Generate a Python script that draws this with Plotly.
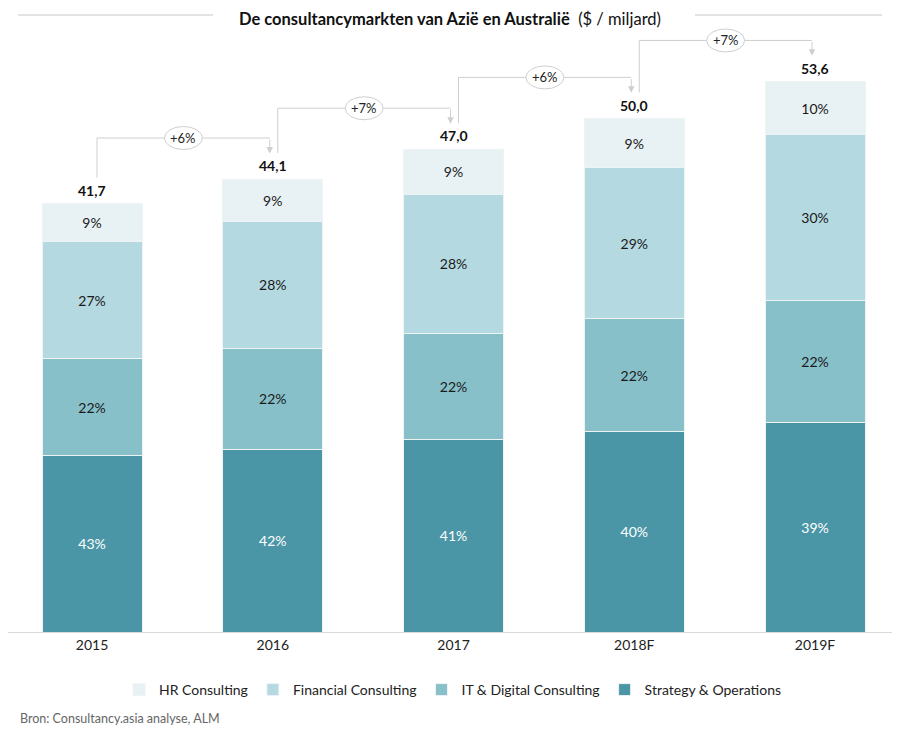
import plotly.graph_objects as go

years = ["2015", "2016", "2017", "2018F", "2019F"]
totals = [41.7, 44.1, 47.0, 50.0, 53.6]
total_labels = ["41,7", "44,1", "47,0", "50,0", "53,6"]
growth_labels = ["+6%", "+7%", "+6%", "+7%"]

strategy_ops = [17.2, 17.8, 18.7, 19.5, 20.4]
it_digital = [9.4, 9.8, 10.4, 11.0, 11.9]
financial = [11.4, 12.4, 13.5, 14.7, 16.1]
hr = [3.7, 4.1, 4.4, 4.8, 5.2]

pct_so = ["43%", "42%", "41%", "40%", "39%"]
pct_it = ["22%", "22%", "22%", "22%", "22%"]
pct_fin = ["27%", "28%", "28%", "29%", "30%"]
pct_hr = ["9%", "9%", "9%", "9%", "10%"]

FONT = "Lato"
OFF = 8          # page body margin
W, H = 900 - OFF, 732 - OFF
PLOT_H = 632 - OFF
x = list(range(len(years)))
PX_X = 180.75   # px per x unit
PX_Y = 10.27    # px per y unit


def px_x(page_x):
    return (page_x - OFF) / W


def px_y(page_y):
    return 1 - (page_y - OFF) / PLOT_H


fig = go.Figure()
series = [
    ("Strategy & Operations", strategy_ops, pct_so, "#4a96a6", "white"),
    ("IT & Digital Consulting", it_digital, pct_it, "#88c0ca", "#1a1a1a"),
    ("Financial Consulting", financial, pct_fin, "#b5d9e0", "#1a1a1a"),
    ("HR Consulting", hr, pct_hr, "#e8f1f3", "#1a1a1a"),
]
for name, vals, labels, color, tcol in series:
    fig.add_trace(go.Bar(
        x=x, y=vals, name=name, text=labels,
        textposition="inside", insidetextanchor="middle", textangle=0,
        textfont=dict(family=FONT, size=14, color=tcol),
        marker=dict(color=color, line=dict(color="#eef3f4", width=1)),
        width=100 / PX_X, hoverinfo="skip",
    ))

annotations = []
shapes = []
for i, t in enumerate(totals):
    annotations.append(dict(x=x[i], y=t, text="<b>%s</b>" % total_labels[i], showarrow=False,
                            yanchor="bottom", yshift=3,
                            font=dict(family=FONT, size=14, color="#111")))

line_col = "#cfcfcf"
for i, g in enumerate(growth_labels):
    x0 = x[i] + 5 / PX_X
    x1 = x[i + 1] - 3 / PX_X
    y_start = totals[i] + 2.55
    level = totals[i + 1] + 4.0
    y_tip = totals[i + 1] + 2.5
    shapes.append(dict(type="line", xref="x", yref="y", x0=x0, x1=x0, y0=y_start, y1=level,
                       line=dict(color=line_col, width=1)))
    shapes.append(dict(type="line", xref="x", yref="y", x0=x0, x1=x1, y0=level, y1=level,
                       line=dict(color=line_col, width=1)))
    annotations.append(dict(x=x1, y=y_tip, ax=x1, ay=level, xref="x", yref="y", axref="x", ayref="y",
                            text="", showarrow=True, arrowhead=2, arrowsize=1.3, arrowwidth=1,
                            arrowcolor=line_col))
    xm = (x0 + x1) / 2
    w = 38 / PX_X / 2
    h = 23 / PX_Y / 2
    shapes.append(dict(type="circle", xref="x", yref="y", x0=xm - w, x1=xm + w, y0=level - h, y1=level + h,
                       fillcolor="white", line=dict(color=line_col, width=1)))
    annotations.append(dict(x=xm, y=level, text=g, showarrow=False,
                            font=dict(family=FONT, size=13, color="#222")))

# title
title_y = px_y(19)
line_y = px_y(15)
annotations.append(dict(xref="paper", yref="paper", x=px_x(450), y=title_y, showarrow=False,
                        text="<b>De consultancymarkten van Azië en Australië</b>  ($ / miljard)",
                        font=dict(family=FONT, size=16.5, color="#111"), xanchor="center", yanchor="middle"))
shapes.append(dict(type="line", xref="paper", yref="paper", x0=px_x(18), x1=px_x(213), y0=line_y, y1=line_y,
                   line=dict(color="#c8c8c8", width=1)))
shapes.append(dict(type="line", xref="paper", yref="paper", x0=px_x(695), x1=px_x(882), y0=line_y, y1=line_y,
                   line=dict(color="#c8c8c8", width=1)))
# source
annotations.append(dict(xref="paper", yref="paper", x=px_x(18), y=px_y(718), showarrow=False,
                        text="Bron: Consultancy.asia analyse, ALM", xanchor="left", yanchor="middle",
                        font=dict(family=FONT, size=12.5, color="#666")))

x_lo = -(92 - OFF) / PX_X
fig.update_layout(
    width=W, height=H,
    margin=dict(l=0, r=0, t=0, b=H - PLOT_H),
    barmode="stack",
    plot_bgcolor="white", paper_bgcolor="white",
    xaxis=dict(range=[x_lo, x_lo + W / PX_X], tickvals=x, ticktext=years, showgrid=False,
               zeroline=False, showline=True, linecolor="#d9d9d9", linewidth=1, ticks="",
               tickfont=dict(family=FONT, size=14, color="#222"), fixedrange=True),
    yaxis=dict(range=[0, PLOT_H / PX_Y], visible=False, fixedrange=True),
    legend=dict(orientation="h", x=px_x(453), xanchor="center", y=px_y(690), yanchor="middle",
                traceorder="reversed", font=dict(family=FONT, size=14, color="#222")),
    annotations=annotations, shapes=shapes, showlegend=True,
)
fig.write_html("out.html")
